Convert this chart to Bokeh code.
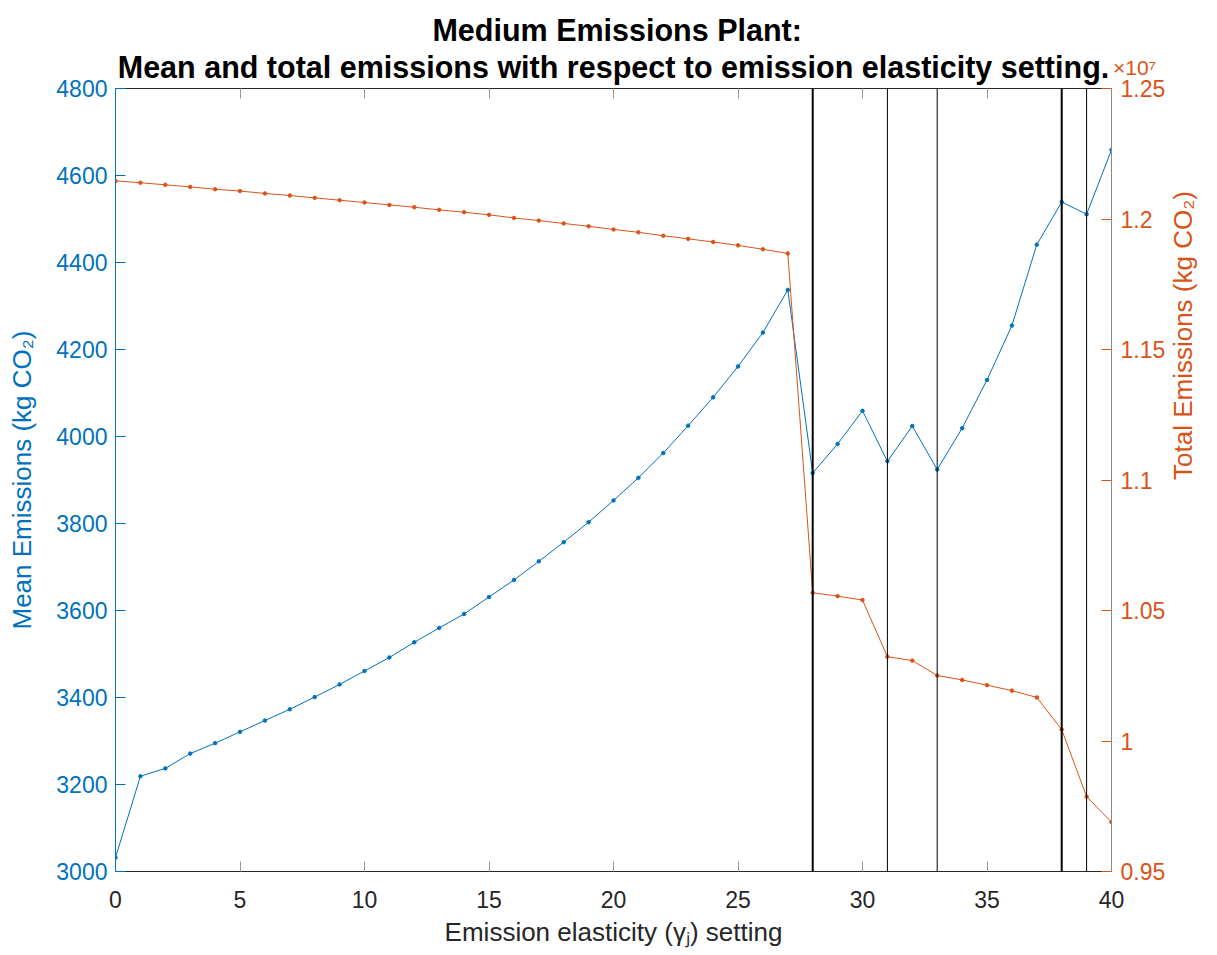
import math
from bokeh.plotting import figure
from bokeh.layouts import column
from bokeh.models import (Range1d, LinearAxis, FixedTicker, Span, Label,
                          ColumnDataSource)
from bokeh.embed import file_html
from bokeh.resources import INLINE

# ---------------- data ----------------
setting = list(range(41))
mean_emissions = [3032, 3219, 3237, 3271, 3295, 3321, 3347, 3373, 3401, 3430,
                  3461, 3492, 3527, 3560, 3592, 3631, 3670, 3713, 3757, 3803,
                  3853, 3905, 3962, 4025, 4090, 4161, 4239, 4337, 3916, 3983,
                  4059, 3943, 4024, 3924, 4019, 4130, 4255, 4441, 4539, 4511,
                  4659]
total_emissions = [1.2146e7, 1.2139e7, 1.2131e7, 1.2123e7, 1.2114e7, 1.2107e7,
                   1.2098e7, 1.2090e7, 1.2081e7, 1.2072e7, 1.2063e7, 1.2054e7,
                   1.2045e7, 1.2035e7, 1.2026e7, 1.2016e7, 1.2004e7, 1.1994e7,
                   1.1983e7, 1.1972e7, 1.1960e7, 1.1949e7, 1.1936e7, 1.1924e7,
                   1.1912e7, 1.1899e7, 1.1884e7, 1.1868e7, 1.0568e7, 1.0555e7,
                   1.0540e7, 1.0323e7, 1.0308e7, 1.0251e7, 1.0234e7, 1.0214e7,
                   1.0193e7, 1.0167e7, 1.0044e7, 0.9787e7, 0.9689e7]
change_points = [28, 31, 33, 38, 39]
heavy_change_points = [28, 38]

x_ticks = [0, 5, 10, 15, 20, 25, 30, 35, 40]
left_ticks = [3000, 3200, 3400, 3600, 3800, 4000, 4200, 4400, 4600, 4800]
right_ticks = [9500000, 10000000, 10500000, 11000000, 11500000, 12000000, 12500000]
right_tick_labels = ["0.95", "1", "1.05", "1.1", "1.15", "1.2", "1.25"]
exponent_text = "\u00d710\u2077"

title_line1 = "Medium Emissions Plant:"
title_line2 = "Mean and total emissions with respect to emission elasticity setting."
x_label = "Emission elasticity (\u03b3\u2c7c) setting"
left_label = "Mean Emissions (kg CO\u2082)"
right_label = "Total Emissions (kg CO\u2082)"

# ---------------- style ----------------
BLUE = "#0072BD"
ORANGE = "#D95319"
DARK = "#262626"
FONT = "Liberation Sans"
TITLE_SIZE = "30.5px"
W, H = 1217, 955
HEAD_H = 46
MAIN_H = H - HEAD_H
BL, BR, BT, BB = 115, 106, 87 - HEAD_H, 84
FW = W - BL - BR

# ---------- header (first title line) ----------
head = figure(width=W, height=HEAD_H, x_range=Range1d(0, W), y_range=Range1d(0, HEAD_H),
              x_axis_type=None, y_axis_type=None, output_backend="svg",
              toolbar_location=None, min_border=0, title=None)
head.outline_line_color = None
head.grid.visible = False
head.background_fill_color = "white"
head.border_fill_color = "white"
head.add_layout(Label(x=BL + FW / 2, y=17, text=title_line1, text_align="center",
                      text_baseline="alphabetic", text_font=FONT,
                      text_font_style="bold", text_font_size=TITLE_SIZE,
                      text_color="black"))

# ---------- main plot ----------
p = figure(width=W, height=MAIN_H, x_range=Range1d(0, 40), y_range=Range1d(3000, 4800),
           x_axis_type=None, y_axis_type=None, title=None,
           output_backend="svg", toolbar_location=None,
           min_border_left=BL, min_border_right=BR,
           min_border_top=BT, min_border_bottom=BB)
p.extra_y_ranges = {"tot": Range1d(9500000, 12500000)}
p.outline_line_color = None
p.background_fill_color = "white"
p.border_fill_color = "white"


def style_axis(ax, line_color, tick_color, label_color):
    ax.axis_line_color = line_color
    ax.axis_line_width = 1
    ax.major_tick_line_color = tick_color
    ax.major_tick_in = 10
    ax.major_tick_out = 0
    ax.minor_tick_line_color = None
    ax.major_label_text_font = FONT
    ax.major_label_text_font_size = "23px"
    ax.major_label_text_color = label_color
    ax.axis_label_text_font = FONT
    ax.axis_label_text_font_style = "normal"
    ax.axis_label_text_font_size = "26px"
    ax.axis_label_text_color = label_color


xaxis = LinearAxis(ticker=FixedTicker(ticks=x_ticks), axis_label=x_label)
style_axis(xaxis, DARK, "#9a9a9a", DARK)
xaxis.major_label_standoff = 19
xaxis.axis_label_standoff = 6
p.add_layout(xaxis, "below")

# top axis: box edge with ticks; its only tick label is the x10^7 exponent of the
# right axis, and its axis label is the second title line
topaxis = LinearAxis(ticker=FixedTicker(ticks=x_ticks), axis_label=title_line2)
style_axis(topaxis, DARK, "#9a9a9a", ORANGE)
pad = "\u2003\u2003\u2009"
topaxis.major_label_overrides = {t: (pad + exponent_text if t == x_ticks[-1] else "")
                                 for t in x_ticks}
topaxis.major_label_text_font_size = "21px"
topaxis.major_label_standoff = 10
topaxis.axis_label_text_color = "black"
topaxis.axis_label_text_font_style = "bold"
topaxis.axis_label_text_font_size = TITLE_SIZE
topaxis.axis_label_standoff = -31
p.add_layout(topaxis, "above")

laxis = LinearAxis(ticker=FixedTicker(ticks=left_ticks), axis_label=left_label)
style_axis(laxis, BLUE, BLUE, BLUE)
laxis.major_label_standoff = 8
laxis.axis_label_standoff = 16
p.add_layout(laxis, "left")

raxis = LinearAxis(y_range_name="tot", ticker=FixedTicker(ticks=right_ticks),
                   axis_label=right_label)
style_axis(raxis, "#8a8a8a", ORANGE, ORANGE)
raxis.major_label_overrides = {t: s for t, s in zip(right_ticks, right_tick_labels)}
raxis.major_label_standoff = 9
raxis.axis_label_standoff = 15
raxis.axis_label_orientation = math.pi / 2
p.add_layout(raxis, "right")

src = ColumnDataSource(dict(x=setting, mean=mean_emissions, total=total_emissions))

p.line("x", "mean", source=src, line_color=BLUE, line_width=1)
p.scatter("x", "mean", source=src, marker="circle", size=3.5,
          fill_color=BLUE, line_color=BLUE)
p.line("x", "total", source=src, line_color=ORANGE, line_width=1, y_range_name="tot")
p.scatter("x", "total", source=src, marker="circle", size=3.5,
          fill_color=ORANGE, line_color=ORANGE, y_range_name="tot")

for cp in change_points:
    p.add_layout(Span(location=cp, dimension="height", line_color="black",
                      line_width=2 if cp in heavy_change_points else 1))

layout = column(head, p, spacing=0)
open("out.html", "w").write(file_html(layout, INLINE))
